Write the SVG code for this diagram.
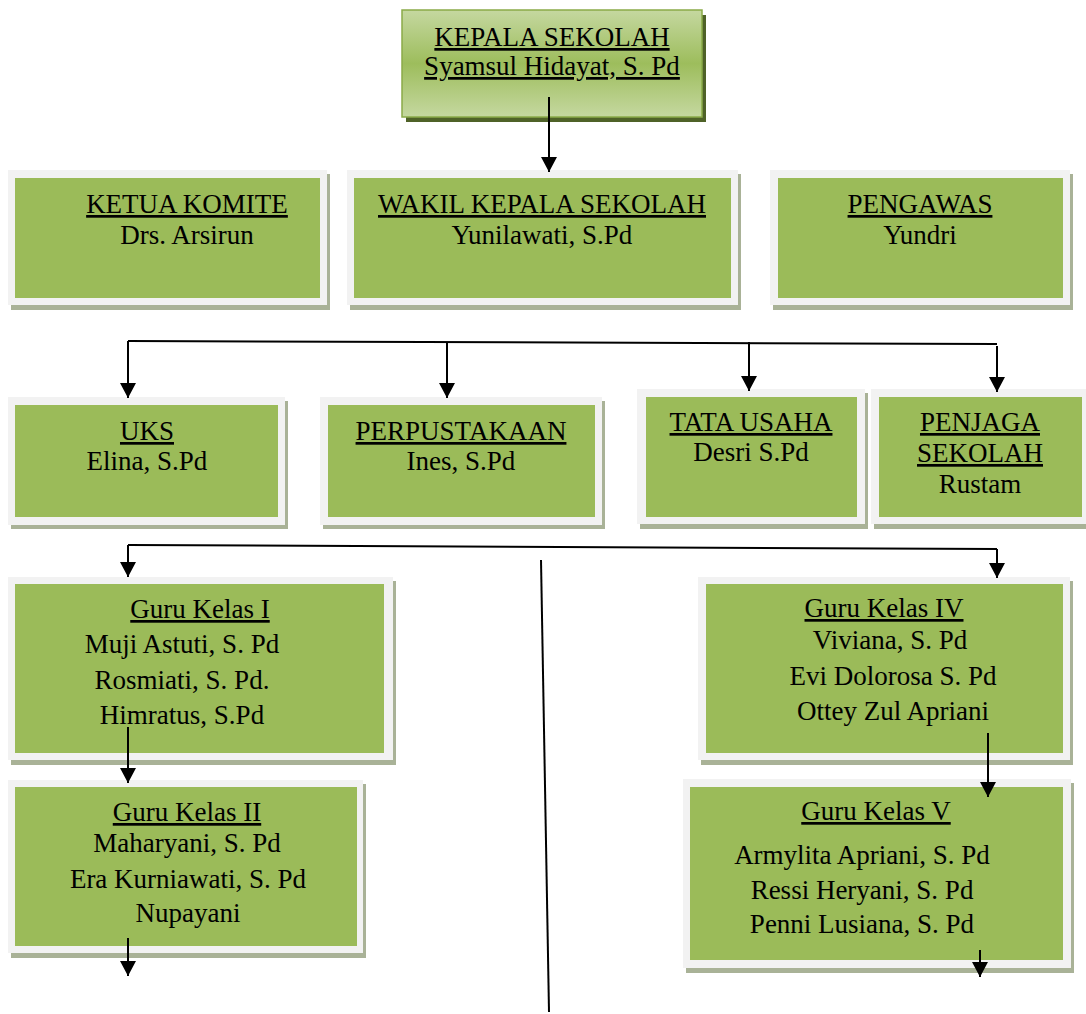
<svg xmlns="http://www.w3.org/2000/svg" width="1086" height="1014" viewBox="0 0 1086 1014">
<defs>
<linearGradient id="topg" x1="0" y1="0" x2="0" y2="1">
<stop offset="0" stop-color="#c5d8a0"/>
<stop offset="0.5" stop-color="#9dbd5c"/>
<stop offset="1" stop-color="#c5d8a0"/>
</linearGradient>
<marker id="ah" markerUnits="userSpaceOnUse" markerWidth="17" markerHeight="17" refX="15" refY="8" orient="auto">
<path d="M0,0 L15,8 L0,16 Z" fill="#000"/>
</marker>
<style>
.sh{fill:#a9b297}
.fr{fill:#f2f2f2}
.gr{fill:#9bbb59}
text{font-family:"Liberation Serif","Times New Roman",serif;font-size:27px;fill:#000;text-anchor:middle}
.u{text-decoration:underline}
.c{stroke:#000;stroke-width:2;fill:none}
.ca{stroke:#000;stroke-width:2;fill:none;marker-end:url(#ah)}
</style>
</defs>
<rect width="1086" height="1014" fill="#fff"/>

<g id="kepala">
<rect x="406" y="15" width="300" height="107" fill="#4f6228"/>
<rect x="402" y="10" width="300" height="107" fill="url(#topg)" stroke="#8aab48" stroke-width="1.5"/>
<text x="552" y="46" class="u">KEPALA SEKOLAH</text>
<text x="552" y="75" class="u">Syamsul Hidayat, S. Pd</text>
</g>

<g id="ketua">
<rect class="sh" x="11" y="174" width="319" height="136"/>
<rect class="fr" x="8" y="170" width="319" height="135"/>
<rect class="gr" x="15" y="178" width="305" height="120"/>
<text x="187" y="213" class="u">KETUA KOMITE</text>
<text x="187" y="244">Drs. Arsirun</text>
</g>

<g id="wakil">
<rect class="sh" x="350" y="174" width="391" height="136"/>
<rect class="fr" x="347" y="170" width="391" height="135"/>
<rect class="gr" x="354" y="178" width="377" height="120"/>
<text x="542" y="213" class="u">WAKIL KEPALA SEKOLAH</text>
<text x="542" y="244">Yunilawati, S.Pd</text>
</g>

<g id="pengawas">
<rect class="sh" x="773" y="174" width="300" height="136"/>
<rect class="fr" x="770" y="170" width="300" height="135"/>
<rect class="gr" x="778" y="178" width="285" height="120"/>
<text x="920" y="213" class="u">PENGAWAS</text>
<text x="920" y="244">Yundri</text>
</g>

<g id="uks">
<rect class="sh" x="11" y="401" width="277" height="128"/>
<rect class="fr" x="8" y="397" width="277" height="128"/>
<rect class="gr" x="15" y="405" width="263" height="112"/>
<text x="147" y="440" class="u">UKS</text>
<text x="147" y="470">Elina, S.Pd</text>
</g>

<g id="perpustakaan">
<rect class="sh" x="323" y="401" width="282" height="128"/>
<rect class="fr" x="320" y="397" width="282" height="128"/>
<rect class="gr" x="328" y="405" width="267" height="112"/>
<text x="461" y="440" class="u">PERPUSTAKAAN</text>
<text x="461" y="470">Ines, S.Pd</text>
</g>

<g id="tatausaha">
<rect class="sh" x="640" y="393" width="228" height="136"/>
<rect class="fr" x="637" y="389" width="228" height="135"/>
<rect class="gr" x="646" y="397" width="211" height="120"/>
<text x="751" y="431" class="u">TATA USAHA</text>
<text x="751" y="461">Desri S.Pd</text>
</g>

<g id="penjaga">
<rect class="sh" x="874" y="393" width="215" height="136"/>
<rect class="fr" x="871" y="389" width="215" height="135"/>
<rect class="gr" x="879" y="397" width="203" height="120"/>
<text x="980" y="431" class="u">PENJAGA</text>
<text x="980" y="462" class="u">SEKOLAH</text>
<text x="980" y="493">Rustam</text>
</g>

<g id="guru1">
<rect class="sh" x="11" y="581" width="385" height="184"/>
<rect class="fr" x="8" y="577" width="385" height="183"/>
<rect class="gr" x="15" y="584" width="369" height="169"/>
<text x="200" y="618" class="u">Guru Kelas I</text>
<text x="182" y="653">Muji Astuti, S. Pd</text>
<text x="182" y="689">Rosmiati, S. Pd.</text>
<text x="182" y="724">Himratus, S.Pd</text>
</g>

<g id="guru2">
<rect class="sh" x="11" y="784" width="355" height="174"/>
<rect class="fr" x="8" y="780" width="355" height="173"/>
<rect class="gr" x="15" y="787" width="342" height="159"/>
<text x="187" y="821" class="u">Guru Kelas II</text>
<text x="187" y="852">Maharyani, S. Pd</text>
<text x="188" y="888">Era Kurniawati, S. Pd</text>
<text x="188" y="922">Nupayani</text>
</g>

<g id="guru4">
<rect class="sh" x="701" y="581" width="372" height="184"/>
<rect class="fr" x="698" y="577" width="372" height="183"/>
<rect class="gr" x="706" y="584" width="357" height="169"/>
<text x="884" y="617" class="u">Guru Kelas IV</text>
<text x="890" y="649">Viviana, S. Pd</text>
<text x="893" y="685">Evi Dolorosa S. Pd</text>
<text x="893" y="720">Ottey Zul Apriani</text>
</g>

<g id="guru5">
<rect class="sh" x="686" y="783" width="388" height="190"/>
<rect class="fr" x="683" y="779" width="388" height="189"/>
<rect class="gr" x="690" y="787" width="373" height="173"/>
<text x="876" y="820" class="u">Guru Kelas V</text>
<text x="862" y="864">Armylita Apriani, S. Pd</text>
<text x="862" y="899">Ressi Heryani, S. Pd</text>
<text x="862" y="933">Penni Lusiana, S. Pd</text>
</g>

<g id="connectors">
<line class="ca" x1="549" y1="97" x2="549" y2="172"/>
<line class="c" x1="128" y1="341" x2="997" y2="344"/>
<line class="ca" x1="128" y1="341" x2="128" y2="398"/>
<line class="ca" x1="447" y1="343" x2="447" y2="398"/>
<line class="ca" x1="749" y1="342" x2="749" y2="391"/>
<line class="ca" x1="997" y1="346" x2="997" y2="392"/>
<line class="c" x1="128" y1="545" x2="997" y2="549"/>
<line class="ca" x1="128" y1="545" x2="128" y2="577"/>
<line class="ca" x1="997" y1="549" x2="997" y2="578"/>
<line class="c" x1="541" y1="560" x2="549" y2="1012" stroke-width="1.5"/>
<line class="ca" x1="128" y1="727" x2="128" y2="783"/>
<line class="ca" x1="128" y1="938" x2="128" y2="976"/>
<line class="ca" x1="988" y1="733" x2="988" y2="797"/>
<line class="ca" x1="980" y1="950" x2="980" y2="977"/>
</g>
</svg>
